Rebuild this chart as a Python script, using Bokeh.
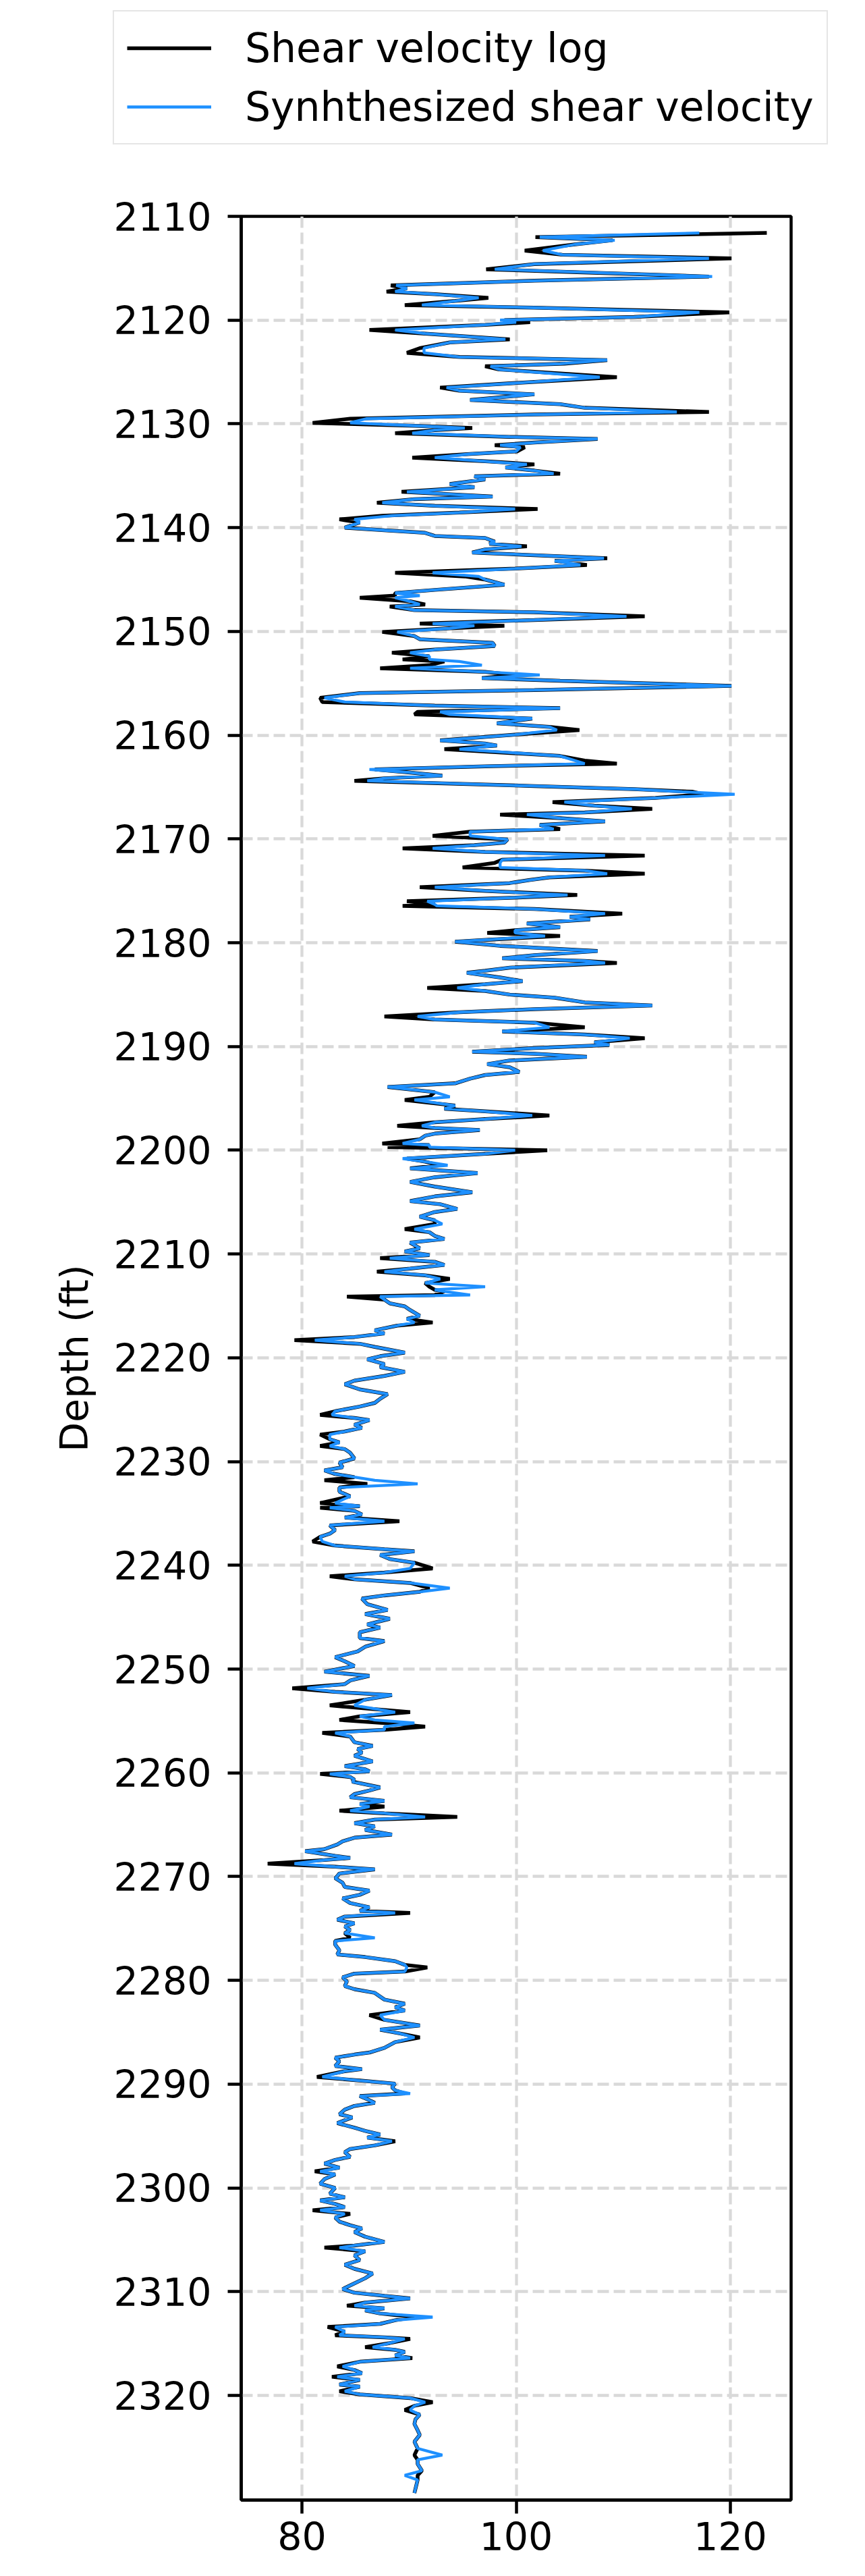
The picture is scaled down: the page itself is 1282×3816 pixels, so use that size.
from bokeh.plotting import figure
from bokeh.models import Range1d, FixedTicker, Legend, LegendItem, ColumnDataSource
from bokeh.embed import file_html
from bokeh.resources import INLINE

# ---------------- data ----------------
depth_ft = [
    2111.6, 2112.0, 2112.3, 2112.7, 2113.3, 2113.7, 2114.05, 2114.6, 2115.1, 2115.8,
    2116.2, 2116.65, 2116.95, 2117.25, 2117.5, 2117.85, 2118.15, 2118.55, 2118.8, 2119.25,
    2119.7, 2120.0, 2120.2, 2120.45, 2120.95, 2121.3, 2121.85, 2122.15, 2122.7, 2123.15,
    2123.55, 2123.85, 2124.2, 2124.45, 2124.75, 2125.5, 2125.95, 2126.5, 2126.8, 2127.15,
    2127.7, 2128.1, 2128.45, 2128.85, 2129.1, 2129.5, 2129.9, 2130.2, 2130.4, 2130.6,
    2130.9, 2131.25, 2131.45, 2131.8, 2132.05, 2132.25, 2132.65, 2132.9, 2133.25, 2133.6,
    2133.9, 2134.2, 2134.5, 2134.8, 2135.05, 2135.35, 2135.8, 2136.1, 2136.55, 2137.0,
    2137.25, 2137.6, 2137.9, 2138.2, 2138.55, 2138.85, 2139.2, 2139.5, 2140.0, 2140.25,
    2140.5, 2140.8, 2141.0, 2141.35, 2141.55, 2141.8, 2142.1, 2142.4, 2142.65, 2142.95,
    2143.2, 2143.6, 2143.95, 2144.35, 2144.7, 2145.0, 2145.5, 2146.0, 2146.3, 2146.55,
    2146.75, 2147.1, 2147.4, 2147.6, 2147.95, 2148.15, 2148.55, 2148.9, 2149.25, 2149.45,
    2149.7, 2150.05, 2150.45, 2150.75, 2151.1, 2151.4, 2151.75, 2152.05, 2152.4, 2152.7,
    2152.9, 2153.25, 2153.55, 2153.9, 2154.2, 2154.5, 2154.75, 2155.25, 2155.65, 2155.95,
    2156.4, 2156.8, 2157.15, 2157.4, 2157.75, 2158.0, 2158.4, 2158.85, 2159.2, 2159.5,
    2159.95, 2160.5, 2160.8, 2161.0, 2161.35, 2162.0, 2162.45, 2162.75, 2163.0, 2163.3,
    2163.6, 2163.9, 2164.15, 2164.4, 2164.9, 2165.2, 2165.45, 2165.7, 2166.05, 2166.45,
    2166.8, 2167.1, 2167.45, 2167.65, 2168.0, 2168.3, 2168.65, 2169.05, 2169.3, 2169.7,
    2170.05, 2170.35, 2170.6, 2170.9, 2171.25, 2171.6, 2172.0, 2172.3, 2172.75, 2173.05,
    2173.35, 2173.7, 2173.95, 2174.25, 2174.65, 2175.0, 2175.4, 2175.65, 2176.0, 2176.3,
    2176.45, 2176.75, 2177.2, 2177.5, 2177.75, 2178.15, 2178.5, 2178.8, 2179.05, 2179.35,
    2179.7, 2179.9, 2180.3, 2180.8, 2181.2, 2181.5, 2181.75, 2181.95, 2182.4, 2182.7,
    2182.9, 2183.35, 2183.7, 2184.0, 2184.35, 2184.65, 2185.0, 2185.3, 2185.75, 2186.05,
    2186.4, 2186.7, 2187.1, 2187.4, 2187.7, 2188.15, 2188.55, 2188.85, 2189.2, 2189.6,
    2189.85, 2190.15, 2190.5, 2190.7, 2191.0, 2191.35, 2191.7, 2192.0, 2192.45, 2192.75,
    2193.1, 2193.55, 2193.9, 2194.4, 2194.85, 2195.15, 2195.7, 2196.0, 2196.25, 2196.65,
    2197.0, 2197.3, 2197.65, 2197.85, 2198.05, 2198.4, 2198.6, 2198.95, 2199.35, 2199.5,
    2199.7, 2200.0, 2200.35, 2200.8, 2201.1, 2201.45, 2201.75, 2202.2, 2202.6, 2203.05,
    2203.5, 2204.05, 2204.45, 2204.9, 2205.2, 2205.65, 2205.95, 2206.4, 2206.75, 2207.1,
    2207.6, 2207.9, 2208.25, 2208.55, 2208.9, 2209.45, 2209.75, 2210.1, 2210.4, 2210.75,
    2211.05, 2211.4, 2211.7, 2212.05, 2212.4, 2212.8, 2213.15, 2213.45, 2213.6, 2213.95,
    2214.1, 2214.4, 2214.75, 2215.05, 2215.4, 2215.95, 2216.25, 2216.6, 2216.9, 2217.35,
    2217.65, 2218.0, 2218.3, 2218.65, 2218.95, 2219.5, 2219.85, 2220.15, 2220.6, 2220.9,
    2221.35, 2221.75, 2222.2, 2222.55, 2223.05, 2223.5, 2223.95, 2224.35, 2224.7, 2225.15,
    2225.5, 2225.8, 2226.0, 2226.45, 2226.75, 2227.1, 2227.4, 2227.85, 2228.15, 2228.5,
    2228.8, 2229.15, 2229.7, 2230.1, 2230.55, 2230.85, 2231.2, 2231.5, 2231.8, 2232.15,
    2232.5, 2232.9, 2233.35, 2234.0, 2234.3, 2234.45, 2234.75, 2235.1, 2235.4, 2235.75,
    2236.15, 2236.6, 2236.95, 2237.25, 2237.7, 2238.1, 2238.45, 2238.65, 2239.0, 2239.4,
    2239.75, 2240.3, 2240.7, 2241.05, 2241.35, 2241.7, 2242.2, 2242.55, 2242.9, 2243.2,
    2243.75, 2244.3, 2244.7, 2245.15, 2245.7, 2246.0, 2246.45, 2247.0, 2247.3, 2247.85,
    2248.3, 2248.85, 2249.25, 2249.7, 2250.25, 2250.65, 2251.1, 2251.45, 2251.85, 2252.2,
    2252.5, 2252.95, 2253.5, 2254.15, 2254.55, 2254.9, 2255.2, 2255.55, 2255.85, 2256.15,
    2256.5, 2257.05, 2257.4, 2257.7, 2258.05, 2258.35, 2258.9, 2259.35, 2259.65, 2259.85,
    2260.1, 2260.4, 2260.65, 2260.85, 2261.4, 2261.7, 2262.05, 2262.35, 2262.7, 2263.0,
    2263.25, 2263.65, 2263.9, 2264.25, 2264.5, 2264.85, 2265.15, 2265.5, 2265.95, 2266.25,
    2266.6, 2266.9, 2267.35, 2267.55, 2268.0, 2268.2, 2268.4, 2268.75, 2269.05, 2269.3,
    2269.7, 2269.95, 2270.15, 2270.6, 2271.0, 2271.35, 2271.75, 2272.1, 2272.55, 2272.95,
    2273.3, 2273.5, 2273.85, 2274.15, 2274.5, 2274.8, 2275.15, 2275.45, 2275.9, 2276.2,
    2276.55, 2277.1, 2277.5, 2277.75, 2278.15, 2278.5, 2278.75, 2279.15, 2279.35, 2279.7,
    2280.1, 2280.55, 2280.85, 2281.2, 2281.85, 2282.25, 2282.6, 2282.9, 2283.35, 2283.8,
    2284.35, 2284.75, 2285.1, 2285.5, 2285.95, 2286.5, 2286.95, 2287.15, 2287.45, 2287.8,
    2288.25, 2288.55, 2288.75, 2289.3, 2289.65, 2289.95, 2290.3, 2290.6, 2290.9, 2291.15,
    2291.45, 2291.8, 2292.1, 2292.45, 2292.9, 2293.2, 2293.75, 2294.2, 2294.5, 2294.85,
    2295.15, 2295.5, 2295.9, 2296.25, 2296.55, 2297.0, 2297.3, 2297.65, 2298.05, 2298.4,
    2298.7, 2299.15, 2299.6, 2300.0, 2300.55, 2300.9, 2301.2, 2301.55, 2301.85, 2302.15,
    2302.5, 2302.85, 2303.25, 2303.6, 2303.9, 2304.25, 2304.7, 2305.2, 2305.55, 2305.75,
    2306.1, 2306.5, 2306.95, 2307.4, 2307.8, 2308.25, 2308.7, 2309.2, 2309.75, 2310.1,
    2310.4, 2310.65, 2311.05, 2311.35, 2311.6, 2311.8, 2312.1, 2312.45, 2312.75, 2313.1,
    2313.4, 2313.85, 2314.2, 2314.4, 2314.55, 2314.95, 2315.35, 2315.6, 2315.8, 2316.15,
    2316.4, 2316.75, 2317.2, 2317.55, 2317.85, 2318.2, 2318.5, 2318.95, 2319.15, 2319.6,
    2319.9, 2320.25, 2320.65, 2321.0, 2321.4, 2321.85, 2322.3, 2322.75, 2323.35, 2323.8,
    2324.45, 2325.1, 2325.75, 2326.2, 2326.6, 2327.25, 2327.7, 2328.15, 2329.4,
]

shear_log = [
    123.4, 101.8, 109.0, 105.5, 100.8, 104.3, 120.1, 101.7, 97.2, 118.0,
    101.7, 88.3, 89.8, 87.9, 92.4, 97.4, 94.3, 89.6, 101.7, 119.9,
    111.0, 98.9, 101.3, 97.1, 86.3, 91.5, 99.4, 93.8, 91.0, 89.8,
    94.7, 108.5, 104.5, 97.1, 98.4, 109.4, 101.7, 92.9, 94.7, 101.7,
    95.7, 104.1, 106.4, 118.0, 101.7, 84.5, 81.0, 91.0, 95.9, 92.4,
    88.7, 99.4, 107.6, 101.7, 98.0, 100.8, 100.1, 95.7, 90.3, 97.1,
    101.7, 99.0, 101.7, 104.1, 96.1, 97.1, 93.8, 96.1, 89.3, 97.8,
    90.5, 87.0, 92.4, 102.0, 94.7, 87.5, 83.5, 85.4, 84.0, 87.7,
    91.5, 92.4, 97.1, 98.0, 97.5, 101.0, 97.1, 95.9, 101.7, 108.5,
    103.6, 106.6, 99.9, 88.7, 95.2, 97.1, 98.9, 92.4, 88.7, 88.7,
    85.4, 90.1, 91.5, 88.2, 90.5, 101.7, 112.0, 101.7, 91.0, 98.9,
    93.8, 87.5, 90.5, 91.0, 97.8, 98.0, 92.4, 88.4, 91.9, 89.4,
    93.3, 91.9, 87.3, 97.1, 99.9, 96.8, 104.1, 120.1, 101.7, 85.4,
    81.7, 81.9, 92.4, 104.1, 90.8, 90.5, 101.5, 98.2, 103.1, 105.9,
    99.9, 92.9, 97.1, 98.2, 93.3, 104.1, 106.4, 109.4, 97.1, 86.8,
    90.1, 93.1, 87.7, 84.9, 101.7, 111.0, 116.5, 117.5, 113.0, 103.4,
    107.3, 112.7, 106.4, 98.5, 104.1, 108.3, 102.2, 104.1, 95.7, 92.2,
    99.2, 98.9, 96.1, 89.4, 97.1, 112.0, 98.7, 98.0, 95.0, 106.4,
    112.0, 103.1, 101.3, 99.4, 91.0, 97.1, 105.7, 99.9, 89.8, 92.4,
    89.4, 101.7, 109.9, 105.0, 106.9, 101.0, 104.1, 99.9, 97.3, 104.1,
    97.5, 94.3, 98.5, 107.6, 101.7, 98.7, 106.4, 109.4, 99.4, 97.1,
    95.4, 98.5, 100.6, 97.1, 91.7, 97.1, 99.4, 103.6, 106.4, 112.7,
    101.7, 94.7, 87.7, 92.4, 101.7, 106.4, 98.7, 106.4, 112.0, 107.3,
    108.7, 101.7, 95.9, 101.7, 106.6, 99.4, 97.3, 99.4, 100.3, 97.1,
    95.7, 94.3, 88.0, 92.4, 91.9, 89.6, 94.3, 93.3, 97.1, 103.1,
    97.1, 92.4, 88.9, 92.4, 96.6, 92.4, 91.5, 91.0, 87.5, 91.9,
    88.0, 102.9, 97.1, 89.8, 91.5, 92.8, 90.1, 96.4, 92.4, 90.1,
    92.4, 95.9, 92.4, 90.1, 92.9, 94.5, 92.4, 91.0, 92.4, 92.4,
    89.6, 91.9, 92.4, 93.3, 90.1, 91.0, 89.6, 91.9, 87.3, 92.4,
    93.3, 90.1, 87.0, 91.5, 93.8, 91.5, 91.9, 92.4, 93.3, 92.4,
    84.2, 87.7, 88.2, 89.6, 90.1, 91.0, 89.8, 92.2, 88.9, 86.8,
    87.7, 84.9, 79.3, 85.4, 86.8, 89.6, 87.3, 86.1, 87.7, 87.3,
    89.6, 87.7, 84.9, 84.0, 85.4, 88.0, 87.3, 86.8, 85.4, 83.1,
    81.7, 84.9, 86.3, 84.9, 85.6, 84.0, 81.7, 82.6, 83.5, 81.7,
    84.0, 84.5, 84.9, 83.5, 83.8, 82.1, 83.1, 84.9, 82.1, 86.1,
    83.5, 83.5, 84.5, 81.7, 85.4, 81.7, 84.9, 85.6, 84.0, 89.1,
    82.6, 83.1, 82.6, 81.7, 81.0, 83.1, 87.7, 90.5, 87.3, 88.2,
    90.5, 92.2, 87.7, 82.6, 84.9, 90.1, 91.9, 91.0, 87.7, 85.6,
    86.1, 88.0, 85.9, 88.2, 86.1, 87.3, 85.4, 85.4, 87.7, 85.9,
    85.2, 83.1, 84.0, 84.9, 82.1, 86.3, 84.5, 84.0, 79.1, 83.1,
    88.4, 85.9, 82.6, 90.1, 85.4, 83.5, 87.7, 91.5, 87.7, 81.9,
    84.5, 84.9, 86.6, 85.2, 85.6, 84.9, 86.6, 84.0, 85.9, 86.3,
    81.7, 84.5, 84.9, 84.7, 87.3, 86.3, 84.9, 84.5, 87.7, 85.4,
    87.7, 83.5, 87.7, 94.5, 86.8, 84.9, 86.8, 85.9, 88.4, 84.9,
    83.8, 83.3, 82.1, 80.3, 83.1, 84.5, 82.1, 76.8, 83.1, 86.8,
    83.5, 83.3, 83.1, 83.8, 84.0, 86.3, 85.4, 83.8, 84.5, 86.3,
    85.4, 90.1, 84.0, 83.3, 84.9, 84.0, 84.5, 84.0, 84.5, 83.1,
    83.1, 83.5, 83.3, 85.9, 88.7, 89.6, 91.7, 89.6, 84.9, 83.8,
    84.2, 84.0, 84.9, 86.8, 87.7, 89.6, 88.7, 89.6, 86.3, 87.7,
    91.0, 87.3, 89.1, 91.0, 88.7, 87.7, 86.3, 84.9, 83.1, 83.5,
    83.1, 85.6, 84.0, 81.4, 85.4, 88.7, 88.4, 88.7, 89.6, 85.4,
    86.1, 86.8, 84.9, 84.0, 83.5, 84.7, 83.3, 84.9, 85.9, 87.3,
    86.1, 88.7, 86.8, 84.5, 84.0, 84.5, 83.1, 82.1, 83.5, 81.2,
    83.1, 82.1, 81.7, 83.1, 82.6, 84.0, 81.7, 83.1, 84.0, 81.0,
    84.5, 83.1, 83.5, 84.5, 85.6, 84.9, 85.9, 87.7, 84.9, 82.1,
    85.9, 84.9, 85.4, 84.0, 84.9, 86.6, 85.9, 84.9, 83.8, 84.9,
    87.7, 90.1, 85.9, 84.2, 87.7, 85.9, 87.3, 90.5, 88.7, 87.3,
    82.4, 84.0, 83.1, 87.7, 90.1, 88.2, 85.9, 88.7, 89.6, 88.7,
    90.3, 85.4, 83.3, 84.9, 85.6, 82.8, 85.4, 83.5, 85.4, 83.5,
    85.4, 90.1, 92.2, 90.5, 89.6, 91.0, 90.6, 90.5, 90.8, 91.0,
    90.5, 90.8, 90.5, 90.8, 90.8, 91.2, 90.8, 90.8, 90.5,
]

shear_syn = [
    117.1, 102.2, 109.2, 105.5, 102.5, 104.3, 118.0, 101.7, 98.0, 118.3,
    101.7, 88.8, 89.8, 88.7, 92.4, 96.5, 94.3, 91.2, 101.7, 117.1,
    111.0, 98.5, 100.0, 97.1, 88.7, 91.5, 99.0, 93.8, 91.4, 91.4,
    94.7, 108.5, 104.1, 97.6, 98.4, 107.8, 101.7, 93.5, 94.7, 101.7,
    95.7, 104.1, 106.4, 115.0, 101.7, 86.0, 84.5, 91.0, 95.2, 92.4,
    90.3, 99.4, 107.6, 101.7, 98.5, 100.4, 100.0, 95.7, 92.4, 97.1,
    101.0, 99.0, 101.7, 103.5, 96.1, 97.1, 93.8, 96.1, 89.8, 97.8,
    90.5, 87.5, 92.4, 99.9, 94.7, 88.4, 84.9, 85.4, 84.0, 87.7,
    91.5, 92.4, 97.1, 98.0, 97.5, 100.5, 97.1, 95.9, 101.7, 108.2,
    103.6, 106.0, 99.9, 92.2, 96.5, 97.1, 98.9, 92.4, 88.7, 91.0,
    88.7, 90.1, 91.0, 88.7, 90.5, 101.7, 110.3, 101.7, 92.2, 96.1,
    93.8, 88.9, 90.5, 91.0, 97.8, 98.0, 92.4, 90.1, 91.9, 91.9,
    94.7, 96.8, 90.1, 97.1, 102.2, 96.8, 104.1, 120.1, 101.7, 85.4,
    82.1, 84.0, 92.4, 104.1, 92.9, 93.8, 101.5, 98.2, 103.1, 103.8,
    99.9, 92.9, 97.1, 98.2, 94.7, 104.1, 105.5, 106.4, 97.1, 86.3,
    90.1, 93.1, 87.7, 86.1, 101.7, 111.0, 115.5, 120.4, 113.0, 104.5,
    107.3, 110.8, 106.4, 101.0, 104.1, 108.3, 102.2, 103.5, 95.7, 95.7,
    99.2, 98.9, 96.1, 92.2, 97.1, 108.3, 98.7, 98.5, 98.5, 106.4,
    108.5, 103.1, 101.3, 99.4, 92.4, 97.1, 104.8, 99.9, 91.7, 92.4,
    92.6, 101.7, 108.3, 105.0, 106.9, 101.0, 104.1, 99.9, 99.9, 102.7,
    97.5, 94.3, 98.5, 107.6, 101.7, 98.7, 106.4, 108.3, 99.4, 97.1,
    95.4, 98.5, 100.6, 97.1, 94.5, 97.1, 99.4, 103.6, 106.4, 112.7,
    101.7, 94.7, 90.8, 92.4, 101.7, 103.1, 98.7, 106.4, 110.6, 107.3,
    108.7, 101.7, 95.9, 101.7, 106.6, 99.4, 97.3, 99.4, 100.3, 97.1,
    95.7, 94.3, 88.0, 92.4, 93.8, 90.5, 94.3, 93.3, 97.1, 101.5,
    97.1, 92.4, 91.2, 92.4, 96.6, 92.4, 91.5, 91.0, 89.4, 91.9,
    91.9, 99.9, 97.1, 89.4, 91.5, 93.6, 90.1, 96.4, 92.4, 90.1,
    92.4, 95.9, 92.4, 90.1, 92.9, 94.5, 92.4, 91.0, 92.4, 93.1,
    90.5, 91.9, 92.4, 93.3, 90.1, 91.0, 89.6, 91.9, 88.2, 92.4,
    93.3, 90.1, 87.7, 91.5, 92.9, 91.5, 97.1, 92.4, 93.3, 95.7,
    87.3, 87.7, 88.2, 89.6, 90.1, 91.0, 89.8, 90.5, 88.9, 86.8,
    87.7, 84.9, 81.2, 85.4, 86.8, 89.6, 87.3, 86.1, 87.7, 87.3,
    89.6, 87.7, 84.9, 84.0, 85.4, 88.0, 87.3, 86.8, 85.4, 83.1,
    82.8, 84.9, 86.3, 84.9, 85.6, 84.0, 82.6, 82.6, 83.5, 82.6,
    84.0, 84.5, 84.9, 83.5, 83.8, 82.1, 83.1, 84.9, 86.8, 90.8,
    83.5, 83.5, 84.5, 83.1, 85.4, 82.6, 84.9, 85.6, 84.0, 87.7,
    82.6, 83.1, 82.6, 81.7, 81.9, 83.1, 87.7, 90.5, 87.3, 88.2,
    90.5, 90.1, 87.7, 84.0, 84.9, 90.1, 93.8, 91.0, 87.7, 85.6,
    86.1, 88.0, 85.9, 88.2, 86.1, 87.3, 85.4, 85.4, 87.7, 85.9,
    85.2, 83.1, 84.0, 84.9, 82.1, 86.3, 84.5, 84.0, 80.5, 83.1,
    88.4, 85.9, 84.9, 88.7, 85.4, 86.8, 90.5, 87.7, 87.7, 83.1,
    84.5, 84.9, 86.6, 85.2, 85.6, 84.9, 86.6, 84.0, 85.9, 86.3,
    82.6, 84.5, 84.9, 84.7, 87.3, 86.3, 84.9, 84.5, 87.7, 85.4,
    86.3, 84.5, 87.7, 91.5, 86.8, 84.9, 86.8, 85.9, 88.4, 84.9,
    83.8, 83.3, 82.1, 80.3, 83.1, 84.5, 82.1, 79.3, 83.1, 86.8,
    83.5, 83.3, 83.1, 83.8, 84.0, 86.3, 85.4, 83.8, 84.5, 86.3,
    85.4, 88.7, 84.0, 83.3, 84.9, 84.0, 84.5, 84.0, 86.8, 83.1,
    83.1, 83.5, 83.3, 85.9, 88.7, 89.6, 89.8, 89.6, 84.9, 83.8,
    84.2, 84.0, 84.9, 86.8, 87.7, 89.6, 88.7, 89.6, 87.3, 87.7,
    91.0, 87.3, 89.1, 90.5, 88.7, 87.7, 86.3, 84.9, 83.1, 83.5,
    83.1, 85.6, 84.0, 81.9, 85.4, 88.7, 88.4, 88.7, 90.1, 85.4,
    86.1, 86.8, 84.9, 84.0, 83.5, 84.7, 83.3, 84.9, 85.9, 87.3,
    86.1, 88.4, 86.8, 84.5, 84.0, 84.5, 83.1, 82.1, 83.5, 81.7,
    83.1, 82.1, 81.7, 83.1, 82.6, 84.0, 81.7, 83.1, 84.0, 81.7,
    84.0, 83.1, 83.5, 84.5, 85.6, 84.9, 85.9, 87.7, 84.9, 83.5,
    85.9, 84.9, 85.4, 84.0, 84.9, 86.6, 85.9, 84.9, 83.8, 84.9,
    87.7, 90.1, 85.9, 84.9, 87.7, 85.9, 87.3, 92.2, 88.7, 87.3,
    83.1, 84.0, 83.5, 87.7, 89.6, 88.2, 86.6, 88.7, 89.6, 88.7,
    90.1, 85.4, 83.8, 84.9, 85.6, 83.3, 85.4, 83.5, 85.4, 84.0,
    85.4, 90.1, 91.5, 90.5, 90.1, 91.0, 90.6, 90.5, 90.8, 91.0,
    90.5, 90.8, 93.1, 90.8, 90.8, 91.2, 89.6, 90.8, 90.5,
]

x_ticks = [80, 100, 120]
depth_ticks = [2110, 2120, 2130, 2140, 2150, 2160, 2170, 2180, 2190, 2200, 2210,
               2220, 2230, 2240, 2250, 2260, 2270, 2280, 2290, 2300, 2310, 2320]
legend_labels = ["Shear velocity log", "Synhthesized shear velocity"]
axis_title = "Depth (ft)"

FONT = "DejaVu Sans"
LOG_STYLE = dict(line_color="black", line_width=5.5)
SYN_STYLE = dict(line_color="#1e90ff", line_width=4.3)

W = 1266
LEG_H = 280               # strip that carries the legend
MAIN_H = 3800 - LEG_H     # main plot below it
TOP_GAP = 320 - LEG_H     # frame top of main plot sits 320 px below page start

src = ColumnDataSource(dict(depth=depth_ft, vlog=shear_log, vsyn=shear_syn))

# ---------------- legend strip (its ranges show nothing of the curves) ----------------
leg_fig = figure(
    width=W, height=LEG_H,
    x_range=Range1d(0, 1), y_range=Range1d(0, 1),
    x_axis_type=None, y_axis_type=None,
    output_backend="svg", toolbar_location=None,
    min_border=0, outline_line_color=None,
    background_fill_color="white", border_fill_color="white",
)
lr_log = leg_fig.line(x="vlog", y="depth", source=src, **LOG_STYLE)
lr_syn = leg_fig.line(x="vsyn", y="depth", source=src, **SYN_STYLE)

LEG_BOX_H = 2 * 19 + 2 * 70 + 17
legend = Legend(
    items=[LegendItem(label=legend_labels[0], renderers=[lr_log]),
           LegendItem(label=legend_labels[1], renderers=[lr_syn])],
    location=(167, LEG_H - 19 - LEG_BOX_H),
    orientation="vertical",
    label_text_font=FONT,
    label_text_font_size="60px",
    label_text_color="black",
    glyph_width=125,
    glyph_height=70,
    label_height=70,
    label_standoff=50,
    spacing=17,
    padding=19,
    margin=0,
    border_line_color="#cccccc",
    border_line_width=2.5,
    background_fill_color="white",
    background_fill_alpha=1.0,
)
leg_fig.add_layout(legend)

# ---------------- main plot ----------------
p = figure(
    width=W, height=MAIN_H,
    x_range=Range1d(74.33, 125.67),
    y_range=Range1d(2330.08, 2110.0),
    output_backend="svg", toolbar_location=None,
    min_border_left=357, min_border_right=94,
    min_border_top=TOP_GAP, min_border_bottom=97,
    background_fill_color="white", border_fill_color="white",
)
p.line(x="vlog", y="depth", source=src, **LOG_STYLE)
p.line(x="vsyn", y="depth", source=src, **SYN_STYLE)

p.outline_line_color = "black"
p.outline_line_width = 4.5
p.outline_line_alpha = 1.0

for g in (p.xgrid[0], p.ygrid[0]):
    g.grid_line_color = "#d9d9d9"
    g.grid_line_width = 4.3
    g.grid_line_dash = "17 7"
p.xgrid.ticker = FixedTicker(ticks=x_ticks)
p.ygrid.ticker = FixedTicker(ticks=depth_ticks)

p.xaxis.ticker = FixedTicker(ticks=x_ticks)
p.yaxis.ticker = FixedTicker(ticks=depth_ticks)
for ax in (p.xaxis[0], p.yaxis[0]):
    ax.axis_line_width = 4.5
    ax.axis_line_color = "black"
    ax.major_tick_line_width = 4.5
    ax.major_tick_line_color = "black"
    ax.major_tick_out = 20
    ax.major_tick_in = 0
    ax.minor_tick_out = 0
    ax.minor_tick_in = 0
    ax.major_label_text_font = FONT
    ax.major_label_text_font_size = "57px"
    ax.major_label_text_color = "black"
p.xaxis.major_label_standoff = 12
p.yaxis.major_label_standoff = 24

p.yaxis.axis_label = axis_title
p.yaxis.axis_label_text_font = FONT
p.yaxis.axis_label_text_font_size = "57px"
p.yaxis.axis_label_text_font_style = "normal"
p.yaxis.axis_label_text_color = "black"
p.yaxis.axis_label_standoff = 22

# two independent roots, stacked on the page
open("out.html", "w").write(file_html([leg_fig, p], INLINE))
